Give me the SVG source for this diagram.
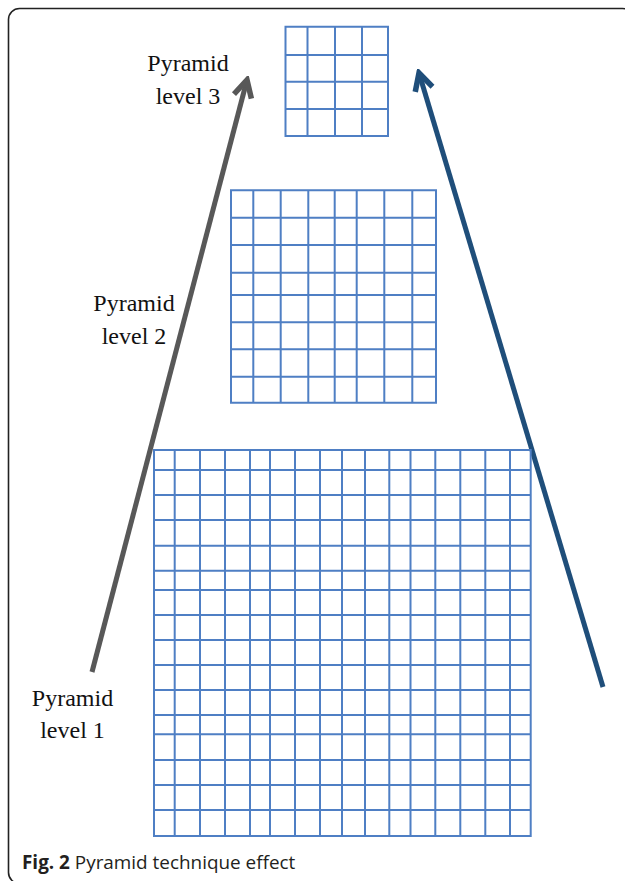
<svg xmlns="http://www.w3.org/2000/svg" width="625" height="881" viewBox="0 0 625 881">
  <style>
    .grid { fill: none; stroke: #4f7fc4; stroke-width: 2; }
    .lbl { font-family: "Liberation Serif", "Times New Roman", serif; font-size: 24px; fill: #111; text-anchor: middle; }
    .cap { font-family: "Open Sans", "Noto Sans", sans-serif; font-size: 18.9px; fill: #231f20; }
    .arr { fill: none; stroke-width: 5; stroke-linecap: butt; }
  </style>
  <defs>
    <marker id="headGray" viewBox="0 0 24 24" refX="20" refY="12" markerWidth="24" markerHeight="24" markerUnits="userSpaceOnUse" orient="auto">
      <path d="M3,3 L20,12 L3,21" fill="none" stroke="#585858" stroke-width="5.5" stroke-linejoin="miter"/>
    </marker>
    <marker id="headBlue" viewBox="0 0 24 24" refX="20" refY="12" markerWidth="24" markerHeight="24" markerUnits="userSpaceOnUse" orient="auto">
      <path d="M3,3 L20,12 L3,21" fill="none" stroke="#1f4e7a" stroke-width="5.5" stroke-linejoin="miter"/>
    </marker>
  </defs>
  <rect x="0" y="0" width="625" height="881" fill="#fff"/>
  <rect x="8.5" y="8.5" width="625" height="875" rx="11" fill="none" stroke="#222" stroke-width="1.6"/>

  <g id="connectors">
    <line class="arr" x1="92" y1="672" x2="247" y2="80" stroke="#585858" marker-end="url(#headGray)"/>
    <line class="arr" x1="603" y1="687" x2="419" y2="73" stroke="#1f4e7a" marker-end="url(#headBlue)"/>
  </g>

  <g id="level3-grid">
    <path class="grid" d="M285.5,26.7H388V136H285.5Z M307.5,26.7V136 M335,26.7V136 M362,26.7V136 M285.5,55H388 M285.5,81.7H388 M285.5,109H388"/>
  </g>

  <g id="level2-grid">
    <path class="grid" d="M231,190.3H436V402.7H231Z
      M253.3,190.3V402.7 M280.7,190.3V402.7 M308.3,190.3V402.7 M334.7,190.3V402.7 M356.7,190.3V402.7 M384.3,190.3V402.7 M412.3,190.3V402.7
      M231,217.7H436 M231,245H436 M231,272.7H436 M231,295H436 M231,322.3H436 M231,349.3H436 M231,376.7H436"/>
  </g>

  <g id="level1-grid">
    <path class="grid" d="M154,450H530.7V836H154Z
      M174.7,450V836 M200,450V836 M225,450V836 M250,450V836 M270,450V836 M295,450V836 M320,450V836 M342,450V836 M365,450V836 M389.3,450V836 M410.5,450V836 M435.3,450V836 M460.3,450V836 M485.3,450V836 M510,450V836
      M154,470H530.7 M154,495H530.7 M154,520H530.7 M154,545.7H530.7 M154,570.7H530.7 M154,590H530.7 M154,615H530.7 M154,640H530.7 M154,665H530.7 M154,690H530.7 M154,715H530.7 M154,734.3H530.7 M154,760H530.7 M154,785H530.7 M154,810H530.7"/>
  </g>

  <g id="label-level3">
    <text class="lbl" x="188" y="71">Pyramid</text>
    <text class="lbl" x="188" y="104">level 3</text>
  </g>
  <g id="label-level2">
    <text class="lbl" x="134" y="311">Pyramid</text>
    <text class="lbl" x="134" y="344">level 2</text>
  </g>
  <g id="label-level1">
    <text class="lbl" x="72.5" y="706">Pyramid</text>
    <text class="lbl" x="72.5" y="738">level 1</text>
  </g>

  <g id="caption">
    <text class="cap" x="22" y="869"><tspan font-weight="bold">Fig. 2</tspan> Pyramid technique effect</text>
  </g>
</svg>
